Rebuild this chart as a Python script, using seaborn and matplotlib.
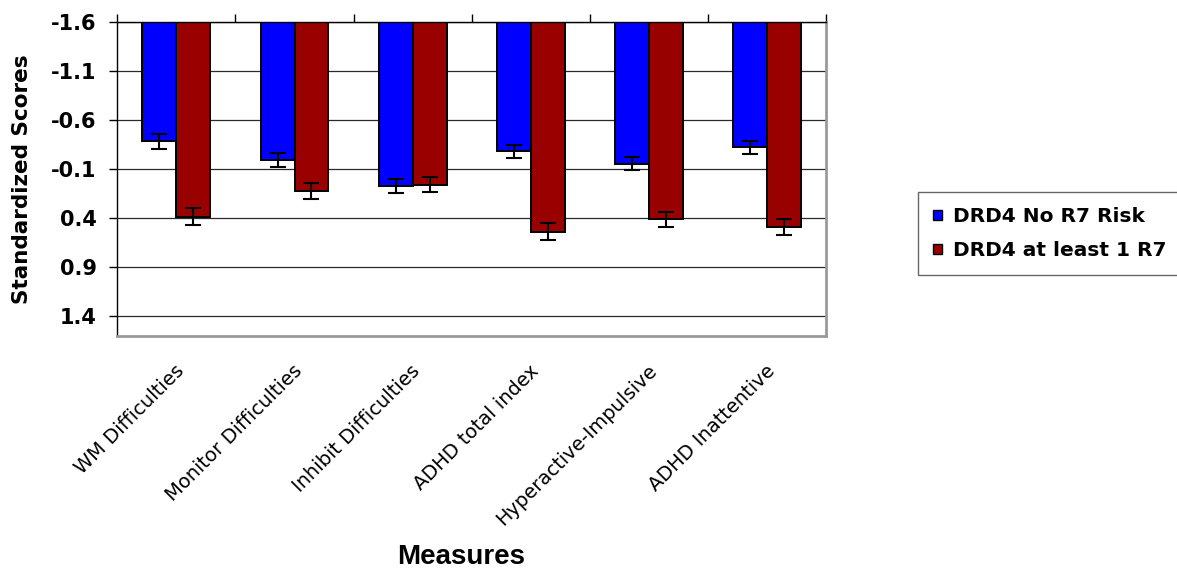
import numpy as np
import pandas as pd
import matplotlib
matplotlib.use("Agg")
import matplotlib.pyplot as plt
import matplotlib.transforms as mtransforms
from matplotlib.patches import Patch
from matplotlib.ticker import FuncFormatter, FixedLocator
import seaborn as sns

# ---- data -------------------------------------------------------------
measures = [
    "WM Difficulties",
    "Monitor Difficulties",
    "Inhibit Difficulties",
    "ADHD total index",
    "Hyperactive-Impulsive",
    "ADHD Inattentive",
]
groups = ["DRD4 No R7 Risk", "DRD4 at least 1 R7"]

no_r7_scores = [-0.38, -0.19, 0.075, -0.28, -0.15, -0.32]
no_r7_se = [0.075, 0.068, 0.068, 0.065, 0.066, 0.068]
r7_scores = [0.39, 0.125, 0.06, 0.54, 0.415, 0.49]
r7_se = [0.087, 0.080, 0.080, 0.085, 0.080, 0.080]

y_ticks = [-1.6, -1.1, -0.6, -0.1, 0.4, 0.9, 1.4]

# value axis is reversed and bars hang from this baseline
BASE = -1.6
Y_END = 1.604

colors = ["#0000FF", "#990000"]

df = pd.DataFrame({
    "Measure": measures * 2,
    "Group": [groups[0]] * len(measures) + [groups[1]] * len(measures),
    "Score": no_r7_scores + r7_scores,
    "SE": no_r7_se + r7_se,
})
# bar length measured from the baseline
df["Offset"] = df["Score"] - BASE

# ---- style ------------------------------------------------------------
sns.set_style("white")
plt.rcParams["font.family"] = ["DejaVu Sans"]
plt.rcParams["text.color"] = "black"
plt.rcParams["axes.labelcolor"] = "black"
plt.rcParams["xtick.color"] = "black"
plt.rcParams["ytick.color"] = "black"

fig = plt.figure(figsize=(11.77, 5.73), dpi=100)
ax = fig.add_axes([0.0997, 0.4136, 0.6021, 0.5485])

sns.barplot(
    data=df, x="Measure", y="Offset", hue="Group",
    order=measures, hue_order=groups, palette=colors, saturation=1,
    width=0.575, edgecolor="black", linewidth=1.4,
    errorbar=None, legend=False, ax=ax,
)

# standard-error whiskers at each bar centre
for container, grp in zip(ax.containers, groups):
    sub = df[df["Group"] == grp].set_index("Measure").loc[measures]
    xs = [b.get_x() + b.get_width() / 2 for b in container]
    ax.errorbar(xs, sub["Offset"].values, yerr=sub["SE"].values,
                fmt="none", ecolor="black", elinewidth=1.5,
                capsize=5.5, capthick=1.5, zorder=5)

# ---- value axis (reversed) -------------------------------------------
ax.set_ylim(Y_END - BASE, 0)
ax.yaxis.set_major_locator(FixedLocator([t - BASE for t in y_ticks]))
ax.yaxis.set_major_formatter(FuncFormatter(lambda v, _: f"{v + BASE:.1f}"))
ax.tick_params(axis="y", left=True, direction="out", length=6, width=1,
               color="black", pad=9, labelsize=15, labelcolor="black")
for lab in ax.get_yticklabels():
    lab.set_fontweight("bold")
ax.yaxis.grid(True, color="#2a2a2a", linewidth=0.9)
ax.set_axisbelow(True)

ax.set_ylabel("Standardized Scores", fontsize=15.5, fontweight="bold",
              va="center", color="black")
ax.yaxis.set_label_coords(-0.1345, 0.5)

# ---- category axis ----------------------------------------------------
ax.set_xlim(-0.5, len(measures) - 0.5)
ax.set_xticks(np.arange(-0.5, len(measures)), minor=True)
ax.tick_params(axis="x", which="minor", top=True, bottom=False,
               direction="out", length=6, width=1, color="black")
ax.tick_params(axis="x", which="major", length=0, pad=23, labelsize=14,
               labelcolor="black")
ax.set_xlabel("")
shift = mtransforms.ScaledTranslation(3.5 / 72, 0, fig.dpi_scale_trans)
for lab in ax.get_xticklabels():
    lab.set_rotation(45)
    lab.set_ha("right")
    lab.set_va("center")
    lab.set_rotation_mode("anchor")
    lab.set_transform(lab.get_transform() + shift)

fig.text(0.392, 1 - 557 / 573, "Measures", ha="center", va="center",
         fontsize=20, fontweight="heavy", color="black",
         family=["Liberation Sans Narrow", "Liberation Sans", "DejaVu Sans"])

# ---- frame ------------------------------------------------------------
for side in ["left", "top"]:
    ax.spines[side].set_color("black")
    ax.spines[side].set_linewidth(1.0)
for side in ["right", "bottom"]:
    ax.spines[side].set_color("#9a9a9a")
    ax.spines[side].set_linewidth(2.0)

# ---- legend -----------------------------------------------------------
handles = [Patch(facecolor=c, edgecolor="black", linewidth=1.0, label=g)
           for c, g in zip(colors, groups)]
leg = fig.legend(
    handles=handles, loc="upper left",
    bbox_to_anchor=(918 / 1177, 1 - 192 / 573),
    prop={"size": 14.5, "weight": "bold"},
    handlelength=0.45, handleheight=0.45, handletextpad=0.55,
    labelspacing=0.75, borderpad=0.75, borderaxespad=0,
    frameon=True, fancybox=False, shadow=False,
)
leg.get_frame().set_edgecolor("#404040")
leg.get_frame().set_linewidth(1.0)
for t in leg.get_texts():
    t.set_color("black")

fig.savefig("out.png", dpi=100, facecolor="white")
